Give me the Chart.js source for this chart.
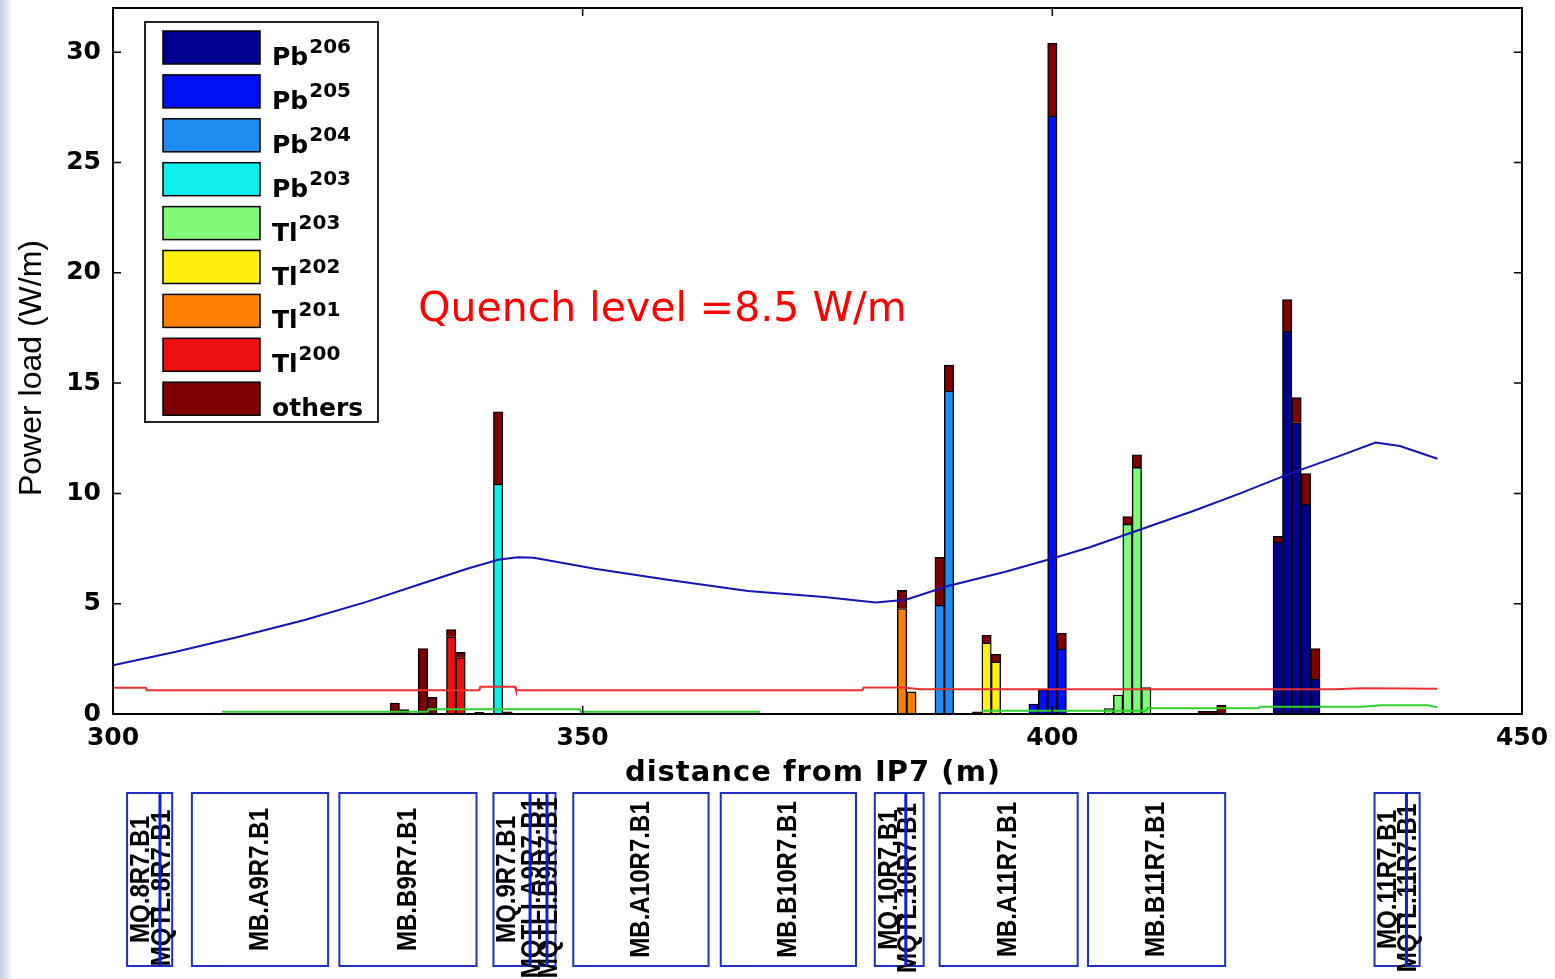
<!DOCTYPE html>
<html>
<head>
<meta charset="utf-8">
<title>Power load vs distance from IP7</title>
<script src="https://cdn.jsdelivr.net/npm/chart.js@4.4.1/dist/chart.umd.min.js"></script>
<style>
  html, body { margin: 0; padding: 0; }
  body {
    width: 1555px; height: 979px; overflow: hidden;
    background: linear-gradient(to right, #c3cfe3 0px, #dde4ef 6px, #ffffff 13px);
  }
  canvas { display: block; }
</style>
</head>
<body>
<canvas id="chart" width="1555" height="979"></canvas>
<script>
// 1 m bins: [bin centre (m), power load (W/m)]
const pb206 = [[424, 7.8], [425, 17.35], [426, 13.2], [427, 9.5], [428, 1.6]];
const pb205 = [[398, 0.45], [399, 1.1], [400, 27.1], [401, 2.95]];
const pb204 = [[388, 4.93], [389, 14.64]];
const pb203 = [[341, 10.42]];
const tl203 = [[406, 0.25], [407, 0.86], [408, 8.6], [409, 11.18], [410, 1.2]];
const tl202 = [[393, 3.22], [394, 2.36]];
const tl201 = [[384, 4.78], [385, 1.0]];
const tl200 = [[336, 3.5], [337, 2.55]];
const others = [[330, 0.5], [331, 0.2], [333, 2.97], [334, 0.75], [336, 0.33], [337, 0.24],
  [339, 0.08], [341, 3.28], [342, 0.1], [384, 0.82], [388, 2.17], [389, 1.17], [392, 0.1],
  [393, 0.35], [394, 0.35], [400, 3.3], [401, 0.72], [408, 0.35], [409, 0.57], [416, 0.12],
  [417, 0.12], [418, 0.4], [424, 0.25], [425, 1.43], [426, 1.14], [427, 1.4], [428, 1.37]];

const speciesName = ['Pb', 'Pb', 'Pb', 'Pb', 'Tl', 'Tl', 'Tl', 'Tl', 'others'];
const speciesMass = ['206', '205', '204', '203', '203', '202', '201', '200', ''];
const speciesData = [pb206, pb205, pb204, pb203, tl203, tl202, tl201, tl200, others];
const speciesColor = ['#000090', '#0010f0', '#1e8cf0', '#10eeee', '#80f878',
  '#fff010', '#ff7f00', '#ee1010', '#800000'];

// curves along s (m)
const blueCurve = [[300, 2.21], [306.7, 2.82], [313.3, 3.49], [320.3, 4.25], [326.9, 5.07],
  [333.4, 5.98], [337.7, 6.58], [341, 6.99], [343.1, 7.11], [344.8, 7.08], [351.3, 6.58],
  [359.4, 6.06], [367.6, 5.57], [375.7, 5.3], [381.2, 5.05], [384.4, 5.18], [388.9, 5.8],
  [395, 6.45], [400, 7.05], [404, 7.56], [409.3, 8.35], [415, 9.2], [420, 10.0], [425, 10.85],
  [430.6, 11.7], [434.4, 12.3], [437, 12.15], [441, 11.57]];
const redCurve = [[300, 1.19], [303.5, 1.19], [303.6, 1.08], [339, 1.08], [339.1, 1.23],
  [342.8, 1.23], [342.9, 1.08], [379.8, 1.08], [379.9, 1.2], [384, 1.2], [386, 1.12],
  [430, 1.12], [433, 1.17], [441, 1.14]];
const greenCurve = [[311.6, 0.1], [333.5, 0.1], [333.6, 0.22], [349.7, 0.22], [349.8, 0.1],
  [368.9, 0.1], [380, null], [392.5, 0.15], [410, 0.15], [410.1, 0.26], [422, 0.26],
  [422.1, 0.33], [433, 0.33], [435, 0.4], [440, 0.4], [441, 0.3]];

const xTickValues = [300, 350, 400, 450];
const yTickValues = [0, 5, 10, 15, 20, 25, 30];

// magnet layout below the axis (m)
const magnetNames = ['MQ.8R7.B1', 'MB.A9R7.B1', 'MB.B9R7.B1', 'MQ.9R7.B1', 'MB.A10R7.B1',
  'MB.B10R7.B1', 'MQ.10R7.B1', 'MB.A11R7.B1', 'MB.B11R7.B1', 'MQ.11R7.B1'];
const magnetFrom = [301.5, 308.4, 324.1, 340.5, 349.0, 364.7, 381.1, 388.0, 403.8, 434.3];
const magnetTo = [306.3, 322.9, 338.7, 347.1, 363.4, 379.1, 386.3, 402.7, 418.4, 439.1];
const correctorNames = ['MQTL.8R7.B1', 'MQTLI.A9R7.B1', 'MQTLI.B9R7.B1', 'MQTL.10R7.B1', 'MQTL.11R7.B1'];
const correctorPos = [305.0, 344.4, 346.2, 384.4, 437.7];

const quenchText = 'Quench level =8.5 W/m';

const toPoints = pairs => pairs.map(([x, y]) => ({ x, y }));

const barSets = speciesData.map((d, i) => ({
  type: 'bar',
  label: speciesName[i] + speciesMass[i],
  data: toPoints(d),
  backgroundColor: speciesColor[i],
  borderColor: '#000',
  borderWidth: 1.4,
  barPercentage: 1,
  categoryPercentage: 1,
  order: 1
}));

const lineSet = (label, pts, color) => ({
  type: 'line',
  label,
  data: toPoints(pts),
  borderColor: color,
  borderWidth: 2,
  pointRadius: 0,
  tension: 0,
  spanGaps: false,
  stack: label,
  order: 0
});

const tickFont = { family: 'DejaVu Sans', size: 25, weight: 'bold' };

function vText(ctx, str, cx, cy) {
  ctx.save();
  ctx.translate(cx, cy);
  ctx.rotate(-Math.PI / 2);
  ctx.scale(0.86, 1);
  ctx.fillText(str, 0, 0);
  ctx.restore();
}

const noPad = s => { s.paddingTop = 0; s.paddingBottom = 0; s.paddingLeft = 0; s.paddingRight = 0; };

const overlay = {
  id: 'overlay',
  afterDraw(chart) {
    const { ctx, chartArea: a, scales: { x, y } } = chart;
    ctx.save();

    // box and inward ticks
    ctx.strokeStyle = '#000';
    ctx.lineWidth = 2;
    ctx.strokeRect(a.left, a.top, a.right - a.left, a.bottom - a.top);
    ctx.lineWidth = 1.5;
    ctx.beginPath();
    x.ticks.forEach(t => {
      const px = x.getPixelForValue(t.value);
      ctx.moveTo(px, a.bottom); ctx.lineTo(px, a.bottom - 8);
      ctx.moveTo(px, a.top); ctx.lineTo(px, a.top + 8);
    });
    y.ticks.forEach(t => {
      const py = y.getPixelForValue(t.value);
      ctx.moveTo(a.left, py); ctx.lineTo(a.left + 8, py);
      ctx.moveTo(a.right, py); ctx.lineTo(a.right - 8, py);
    });
    ctx.stroke();

    // legend
    ctx.fillStyle = '#fff';
    ctx.fillRect(145, 22, 233, 400);
    ctx.strokeStyle = '#222';
    ctx.lineWidth = 2;
    ctx.strokeRect(145, 22, 233, 400);
    barSets.forEach((ds, i) => {
      const sy = 31 + i * 43.9;
      ctx.fillStyle = ds.backgroundColor;
      ctx.fillRect(163, sy, 97, 33);
      ctx.strokeStyle = '#000';
      ctx.lineWidth = 1.5;
      ctx.strokeRect(163, sy, 97, 33);
      ctx.fillStyle = '#000';
      ctx.textAlign = 'left';
      ctx.textBaseline = 'alphabetic';
      ctx.font = 'bold 25px "DejaVu Sans"';
      ctx.fillText(speciesName[i], 272, sy + 34);
      const w = ctx.measureText(speciesName[i]).width;
      if (speciesMass[i]) {
        ctx.font = 'bold 20px "DejaVu Sans"';
        ctx.fillText(speciesMass[i], 272 + w + 1, sy + 22);
      }
    });

    // quench label
    ctx.fillStyle = '#ff0000';
    ctx.font = '41px "DejaVu Sans"';
    ctx.textAlign = 'left';
    ctx.fillText(quenchText, x.getPixelForValue(332.5), y.getPixelForValue(17.8));

    // axis titles
    ctx.fillStyle = '#000';
    ctx.textAlign = 'center';
    ctx.textBaseline = 'middle';
    ctx.font = 'bold 29px "DejaVu Sans"';
    ctx.letterSpacing = '1px';
    ctx.fillText('distance from IP7 (m)', 813, 773);
    ctx.letterSpacing = '0px';
    ctx.save();
    ctx.translate(32, 368);
    ctx.rotate(-Math.PI / 2);
    ctx.font = '32px "Liberation Sans"';
    ctx.fillText('Power load (W/m)', 0, 0);
    ctx.restore();

    // magnets
    const top = 793, bot = 966;
    ctx.font = 'bold 28px "Liberation Sans"';
    magnetNames.forEach((name, i) => {
      const x1 = x.getPixelForValue(magnetFrom[i]);
      const x2 = x.getPixelForValue(magnetTo[i]);
      ctx.strokeStyle = '#2030c0';
      ctx.lineWidth = 2;
      ctx.strokeRect(x1, top, x2 - x1, bot - top);
      ctx.fillStyle = '#000';
      const cx = name.startsWith('MQ') ? x1 + 14 : (x1 + x2) / 2;
      vText(ctx, name, cx, (top + bot) / 2);
    });
    correctorNames.forEach((name, i) => {
      const px = x.getPixelForValue(correctorPos[i]);
      ctx.fillStyle = '#000';
      vText(ctx, name, px + 2, 888);
      ctx.strokeStyle = '#1020d0';
      ctx.lineWidth = 3;
      ctx.beginPath();
      ctx.moveTo(px, top); ctx.lineTo(px, bot);
      ctx.stroke();
    });

    ctx.restore();
  }
};

new Chart(document.getElementById('chart'), {
  type: 'bar',
  data: {
    datasets: [
      ...barSets,
      lineSet('blue', blueCurve, '#1414b4'),
      lineSet('red', redCurve, '#e83030'),
      lineSet('green', greenCurve, '#30d030')
    ]
  },
  options: {
    responsive: false,
    animation: false,
    layout: { padding: { top: 8, right: 33, left: 0, bottom: 0 } },
    plugins: { legend: { display: false }, tooltip: { enabled: false } },
    scales: {
      x: {
        type: 'linear', min: 300, max: 450, offset: false, stacked: true,
        grid: { display: false, drawTicks: false },
        border: { display: false },
        afterBuildTicks: s => { s.ticks = xTickValues.map(v => ({ value: v })); },
        afterFit: s => { s.height = 979 - 714; noPad(s); },
        ticks: { color: '#000', font: tickFont, padding: 9, maxRotation: 0, autoSkip: false }
      },
      y: {
        min: 0, max: 32, stacked: true,
        grid: { display: false, drawTicks: false },
        border: { display: false },
        afterBuildTicks: s => { s.ticks = yTickValues.map(v => ({ value: v })); },
        afterFit: s => { s.width = 113; noPad(s); },
        ticks: { color: '#000', font: tickFont, padding: 12 }
      }
    }
  },
  plugins: [overlay]
});
</script>
</body>
</html>
